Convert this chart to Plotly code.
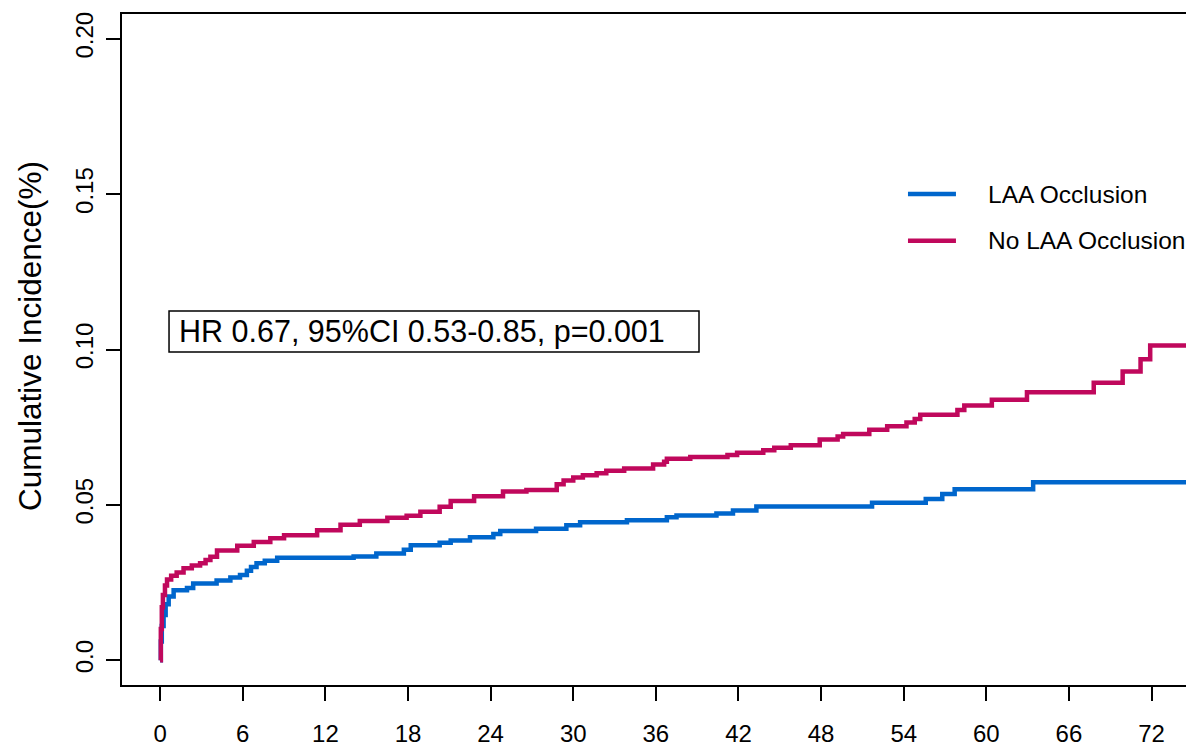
import plotly.graph_objects as go

# ---- data (months, cumulative incidence) ----
laa_t = [0, 0.05, 0.12, 0.25, 0.4, 0.62, 0.98, 1.95, 2.4, 4.1, 5.1, 5.8, 6.3, 6.6, 7.0, 7.6, 8.5,
         14.05, 15.7, 17.7, 18.2, 20.3, 21.1, 22.5, 24.2, 24.7, 27.3, 29.5, 30.5, 33.9, 36.8, 37.5,
         40.4, 41.6, 43.3, 51.7, 55.6, 56.8, 57.7, 63.4, 75]
laa_v = [0, 0.006, 0.011, 0.0145, 0.018, 0.0205, 0.0225, 0.0232, 0.0247, 0.0256, 0.0266, 0.0274,
         0.0288, 0.0300, 0.0312, 0.0320, 0.0330, 0.0334, 0.0343, 0.0355, 0.0370, 0.0378, 0.0385,
         0.0396, 0.0406, 0.0416, 0.0423, 0.0434, 0.0444, 0.0450, 0.0460, 0.0466, 0.0472, 0.0482,
         0.0495, 0.0507, 0.0519, 0.0535, 0.0550, 0.0573, 0.0573]

nolaa_t = [0, 0.05, 0.12, 0.2, 0.35, 0.5, 0.8, 1.2, 1.7, 2.3, 2.9, 3.3, 3.65, 4.13, 5.6, 6.8, 8.0,
           9.0, 11.4, 13.1, 14.5, 16.5, 17.9, 18.9, 20.3, 21.1, 22.8, 24.9, 26.6, 28.8, 29.3, 30.0,
           30.7, 31.7, 32.4, 33.7, 35.8, 36.6, 36.8, 38.5, 41.2, 41.9, 43.8, 44.6, 45.8, 47.9, 49.2,
           49.6, 51.5, 52.8, 54.2, 54.8, 55.2, 57.9, 58.4, 60.4, 62.95, 67.8, 69.9, 71.2, 71.9, 75]
nolaa_v = [0, 0.010, 0.017, 0.021, 0.024, 0.026, 0.0272, 0.0282, 0.0296, 0.0305, 0.0312, 0.0322,
           0.0333, 0.0353, 0.0368, 0.0380, 0.0392, 0.0402, 0.0418, 0.0436, 0.0448, 0.0458, 0.0465,
           0.0478, 0.0494, 0.0512, 0.0528, 0.0543, 0.0548, 0.0566, 0.0578, 0.0588, 0.0595, 0.0602,
           0.0610, 0.0617, 0.0630, 0.0639, 0.0648, 0.0654, 0.0660, 0.0668, 0.0676, 0.0684, 0.0692,
           0.0710, 0.0720, 0.0728, 0.0742, 0.0753, 0.0765, 0.0776, 0.0790, 0.0805, 0.0820, 0.0838,
           0.0862, 0.0893, 0.0929, 0.0969, 0.1013, 0.1013]

series_names = ["LAA Occlusion", "No LAA Occlusion"]
series_colors = ["#0066CC", "#C0085C"]
x_ticks = [0, 6, 12, 18, 24, 30, 36, 42, 48, 54, 60, 66, 72]
y_ticks = [0.0, 0.05, 0.10, 0.15, 0.20]
y_tick_text = ["0.0", "0.05", "0.10", "0.15", "0.20"]
y_title = "Cumulative Incidence(%)"
hr_text = "HR 0.67, 95%CI 0.53-0.85, p=0.001"

FONT = "Liberation Sans, Arial, Helvetica, sans-serif"

fig = go.Figure()
for t, v, name, col in [(laa_t, laa_v, series_names[0], series_colors[0]),
                        (nolaa_t, nolaa_v, series_names[1], series_colors[1])]:
    fig.add_trace(go.Scatter(x=t, y=v, mode="lines", name=name,
                             line=dict(color=col, width=4.5, shape="hv"),
                             showlegend=False))

# custom legend (paper coordinates)
leg_y = [0.7317, 0.6621]
for name, col, yy in zip(series_names, series_colors, leg_y):
    fig.add_shape(type="line", xref="paper", yref="paper", x0=0.7387, x1=0.7838,
                  y0=yy, y1=yy, line=dict(color=col, width=4.5))
    fig.add_annotation(xref="paper", yref="paper", x=0.8120, y=yy, text=name,
                       showarrow=False, xanchor="left", yanchor="middle",
                       font=dict(family=FONT, size=24.5, color="black"))

# HR box
fig.add_shape(type="rect", xref="paper", yref="paper", x0=0.0442, x1=0.5423,
              y0=0.4963, y1=0.5574, line=dict(color="black", width=1.5))
fig.add_annotation(xref="paper", yref="paper", x=0.0515, y=0.5268, text=hr_text,
                   showarrow=False, xanchor="left", yanchor="middle",
                   font=dict(family=FONT, size=30.5, color="black"))

# y title
fig.add_annotation(xref="paper", yref="paper", x=-0.0865, y=0.52, text=y_title,
                   showarrow=False, textangle=-90, xanchor="center", yanchor="middle",
                   font=dict(family=FONT, size=31.5, color="black"))

fig.update_layout(
    width=1186, height=746,
    margin=dict(l=122, r=0, t=14, b=61),
    paper_bgcolor="white", plot_bgcolor="white",
    font=dict(family=FONT, color="black"),
    hovermode=False,
    xaxis=dict(range=[-2.77, 74.5], tickvals=x_ticks, ticktext=[str(v) for v in x_ticks],
               showgrid=False, zeroline=False, showline=True, linecolor="black", linewidth=2,
               mirror=True, ticks="outside", ticklen=14, tickwidth=2, tickcolor="black",
               tickfont=dict(family=FONT, size=24, color="black"), ticklabelstandoff=12),
    yaxis=dict(range=[-0.008, 0.208], tickvals=y_ticks, ticktext=y_tick_text,
               showgrid=False, zeroline=False, showline=True, linecolor="black", linewidth=2,
               ticks="outside", ticklen=14, tickwidth=2, tickcolor="black", tickangle=-90,
               tickfont=dict(family=FONT, size=24, color="black"), ticklabelstandoff=3),
)

# remove the page's default 8px body margin (and scrollbars) so the figure fills the window
fig.write_html("out.html",
               config={"displayModeBar": False},
               post_script="document.body.style.margin='0';"
                           "document.documentElement.style.overflow='hidden';"
                           "document.body.style.overflow='hidden';")
